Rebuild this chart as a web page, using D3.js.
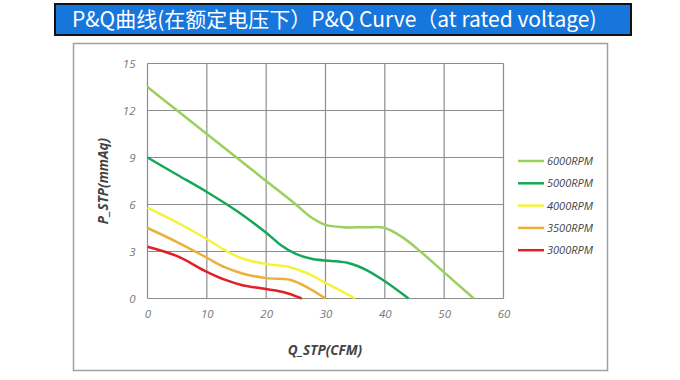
<!DOCTYPE html>
<html lang="zh-cn">
<head>
    <meta charset="utf-8">
    <title>P&Q Curve</title>
    <style>
        body { margin: 0; background: #fff; }
        svg { display: block; }
    </style>
</head>
<body>
<script src="https://cdn.jsdelivr.net/npm/d3@7"></script>
<script>
    // 数据 (从图上读出来的大概值)
    var seriesNames = ["6000RPM", "5000RPM", "4000RPM", "3500RPM", "3000RPM"];
    var seriesColors = ["#9bd05c", "#16a85a", "#f6f23c", "#ebb03a", "#df2027"];
    var rpm6000 = [[0, 13.5], [5, 12.0], [10, 10.5], [15, 9.0], [20, 7.5], [25, 6.0], [27.5, 5.2], [30, 4.7], [33, 4.55], [37, 4.55], [40, 4.5], [43, 3.9], [46, 3.0], [49, 2.0], [52, 1.0], [55, 0]];
    var rpm5000 = [[0, 9.0], [5, 7.9], [10, 6.8], [15, 5.6], [20, 4.2], [22.5, 3.4], [25, 2.85], [28, 2.5], [31, 2.4], [34, 2.25], [37, 1.8], [40, 1.1], [44, 0]];
    var rpm4000 = [[0, 5.8], [5, 4.85], [10, 3.8], [13, 3.1], [16, 2.55], [20, 2.2], [24, 2.0], [27, 1.6], [30, 1.0], [35, 0]];
    var rpm3500 = [[0, 4.5], [5, 3.6], [10, 2.6], [13, 2.0], [16, 1.6], [20, 1.3], [24, 1.2], [27, 0.7], [30, 0]];
    var rpm3000 = [[0, 3.3], [5, 2.7], [10, 1.7], [13, 1.2], [16, 0.85], [20, 0.6], [23, 0.4], [26, 0]];
    var xTicks = [0, 10, 20, 30, 40, 50, 60];
    var yTicks = [0, 3, 6, 9, 12, 15];
    var titleText = "P&Q曲线(在额定电压下）P&Q Curve（at rated voltage)";

    function main() {
        var width = 680,
            height = 380;
        var allSeries = [rpm6000, rpm5000, rpm4000, rpm3500, rpm3000];

        var svg = d3.select("body").append("svg")
            .attr("width", width)
            .attr("height", height);

        // 标题蓝框
        svg.append("rect")
            .attr("x", 55).attr("y", 4)
            .attr("width", 576).attr("height", 31)
            .attr("fill", "#1676dc")
            .attr("stroke", "#111")
            .attr("stroke-width", 2);
        svg.append("text")
            .attr("x", 72).attr("y", 27)
            .attr("fill", "#fff")
            .attr("font-family", "'Noto Sans CJK SC', 'Noto Sans', sans-serif")
            .attr("font-size", 21)
            .text(titleText);

        // 外框
        svg.append("rect")
            .attr("x", 73.5).attr("y", 43.5)
            .attr("width", 534).attr("height", 327)
            .attr("fill", "none")
            .attr("stroke", "#a0a0a0")
            .attr("stroke-width", 1.5);

        var x = d3.scaleLinear().domain([0, 60]).range([147.5, 503.5]);
        var y = d3.scaleLinear().domain([0, 15]).range([298.5, 63.5]);

        // 网格
        var grid = svg.append("g").attr("stroke", "#8c8c8c").attr("stroke-width", 1.2);
        grid.selectAll(".vx").data(xTicks).enter().append("line")
            .attr("x1", function (d) { return x(d); })
            .attr("x2", function (d) { return x(d); })
            .attr("y1", y(0)).attr("y2", y(15));
        grid.selectAll(".hy").data(yTicks).enter().append("line")
            .attr("x1", x(0)).attr("x2", x(60))
            .attr("y1", function (d) { return y(d); })
            .attr("y2", function (d) { return y(d); });

        // 坐标轴刻度文字
        var xAxis = svg.append("g")
            .attr("transform", "translate(0," + y(0) + ")")
            .call(d3.axisBottom(x).tickValues(xTicks).tickSize(0).tickPadding(11));
        var yAxis = svg.append("g")
            .attr("transform", "translate(" + x(0) + ",0)")
            .call(d3.axisLeft(y).tickValues(yTicks).tickSize(0).tickPadding(12));
        [xAxis, yAxis].forEach(function (a) {
            a.select(".domain").remove();
            a.selectAll("text")
                .attr("fill", "#777")
                .attr("font-family", "'Open Sans', sans-serif")
                .attr("font-style", "italic")
                .attr("font-size", 11.5);
        });

        // 轴标题
        svg.append("text")
            .attr("x", 325).attr("y", 355)
            .attr("text-anchor", "middle")
            .attr("fill", "#444")
            .attr("font-family", "'Open Sans', sans-serif")
            .attr("font-style", "italic").attr("font-weight", "bold")
            .attr("font-size", 13.5)
            .text("Q_STP(CFM)");
        svg.append("text")
            .attr("transform", "translate(108,181) rotate(-90)")
            .attr("text-anchor", "middle")
            .attr("fill", "#444")
            .attr("font-family", "'Open Sans', sans-serif")
            .attr("font-style", "italic").attr("font-weight", "bold")
            .attr("font-size", 13.5)
            .text("P_STP(mmAq)");

        // 曲线
        var line = d3.line()
            .x(function (d) { return x(d[0]); })
            .y(function (d) { return y(d[1]); })
            .curve(d3.curveCatmullRom.alpha(0.5));
        svg.selectAll(".curve").data(allSeries).enter().append("path")
            .attr("d", line)
            .attr("fill", "none")
            .attr("stroke", function (d, i) { return seriesColors[i]; })
            .attr("stroke-width", 2.5);

        // 图例
        var legend = svg.selectAll(".lg").data(seriesNames).enter().append("g")
            .attr("transform", function (d, i) { return "translate(518," + (161 + i * 22.3) + ")"; });
        legend.append("line")
            .attr("x1", 0).attr("x2", 26)
            .attr("stroke", function (d, i) { return seriesColors[i]; })
            .attr("stroke-width", 2.5);
        legend.append("text")
            .attr("x", 29).attr("y", 4)
            .attr("fill", "#444")
            .attr("font-family", "'Open Sans', sans-serif")
            .attr("font-style", "italic")
            .attr("font-size", 11)
            .text(function (d) { return d; });
    }

    window.onload = function () {
        main();
    };
</script>
</body>
</html>
